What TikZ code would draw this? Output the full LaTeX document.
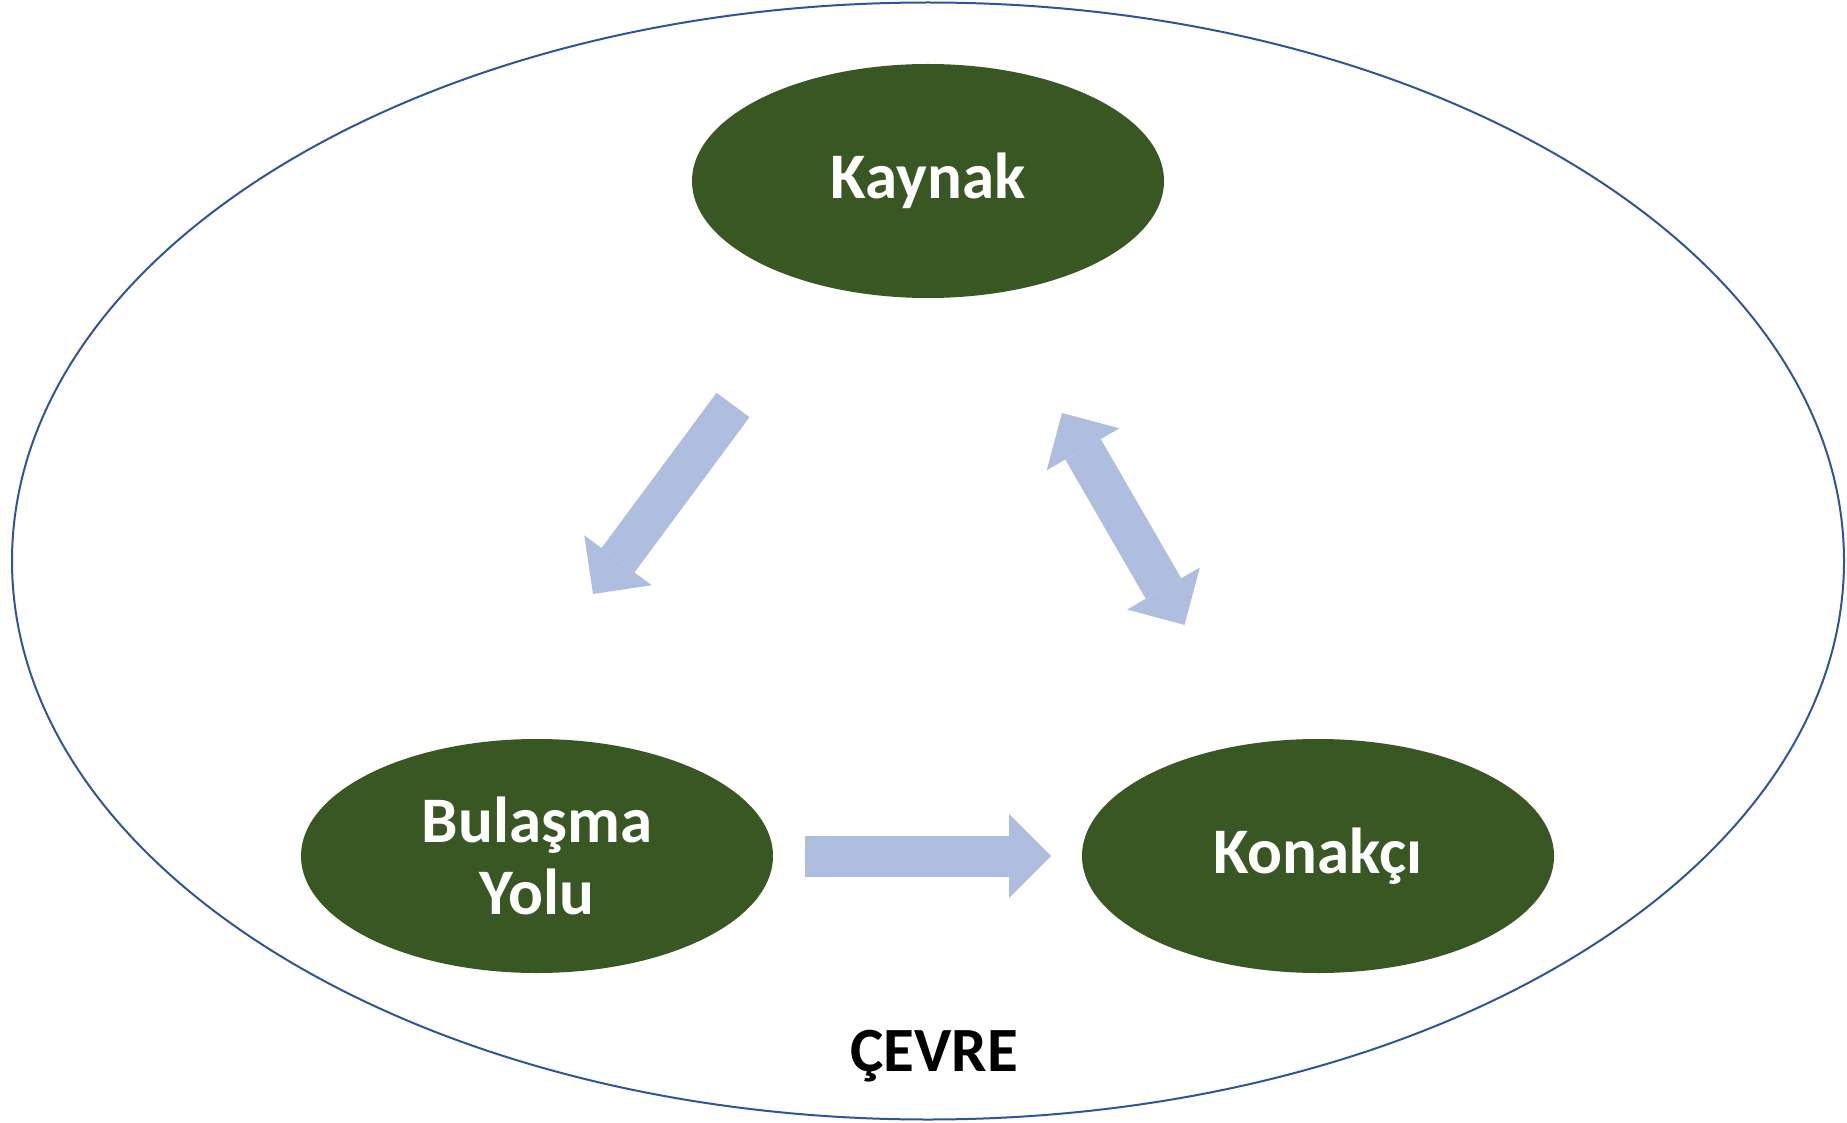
\documentclass[tikz,border=0pt]{standalone}
\usepackage{fontspec}
\setmainfont{Carlito}
\usepackage{tikz}
\usetikzlibrary{positioning, shapes.geometric, arrows.meta}
\definecolor{leaf}{RGB}{56,87,35}
\definecolor{pale}{RGB}{175,189,222}
\definecolor{rim}{RGB}{47,85,151}

\begin{document}
\begin{tikzpicture}[
        x=1pt, y=-1pt,
        blob/.style={ellipse, fill=leaf, text=white, align=center,
          font=\bfseries\fontsize{65}{72}\selectfont,
          minimum width=472pt, minimum height=234pt, inner sep=0pt, outer sep=0pt},
        fathead/.tip={Triangle[length=42pt, width=84pt, line width=0pt]},
        fat/.style={pale, line width=41pt}
      ]
      \useasboundingbox (0,0) rectangle (1847,1123);
      \node[ellipse, draw=rim, line width=2pt, minimum width=1832pt, minimum height=1117pt] (env) at (928,561) {};
      \node[anchor=base, font=\bfseries\fontsize{63}{63}\selectfont] (cevre) at (934,1071) {ÇEVRE};
      \node[blob] (kaynak) at (928,181) {Kaynak};
      \node[blob] (yol) at (537,856) {Bulaşma\\Yolu};
      \node[blob] (konak) [right=309pt of yol] {Konakçı};
      \coordinate (kt) at (733,405);
      \coordinate (kh) at (593,594);
      \draw[fat, -fathead] (kt) -- (kh);
      \draw[fat, -fathead, shorten <=32pt, shorten >=31pt] (yol) -- (konak);
      \draw[fat, fathead-fathead, shorten <=138pt, shorten >=137pt] (kaynak) -- (konak);
    \end{tikzpicture}
\end{document}
